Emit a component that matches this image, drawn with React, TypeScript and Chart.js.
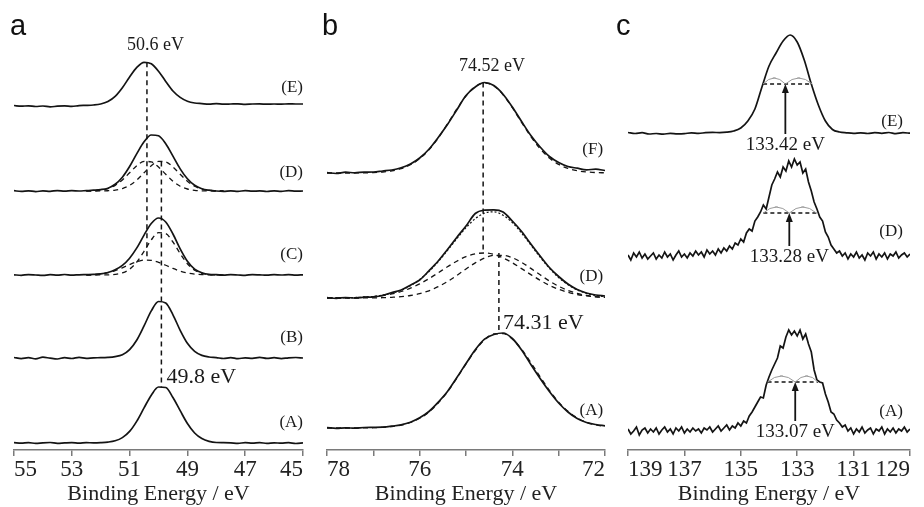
import React, { useEffect, useRef } from "react";
import { Chart, registerables } from "chart.js";

Chart.register(...registerables);

const SERIF = '"Liberation Serif", "Times New Roman", Times, serif';
const SANS = '"Liberation Sans", Arial, Helvetica, sans-serif';
const INK = "#141414";
const FIG = "\u2007";

// ================= Panel a =================
const aEnergy = [55, 54.75, 54.5, 54.25, 54, 53.75, 53.5, 53.25, 53, 52.75, 52.5, 52.25, 52, 51.75, 51.5, 51.25, 51, 50.75, 50.5, 50.25, 50, 49.75, 49.5, 49.25, 49, 48.75, 48.5, 48.25, 48, 47.75, 47.5, 47.25, 47, 46.75, 46.5, 46.25, 46, 45.75, 45.5, 45.25, 45];
const aFitEnergy = [52.5, 52.25, 52, 51.75, 51.5, 51.25, 51, 50.75, 50.5, 50.25, 50, 49.75, 49.5, 49.25, 49, 48.75, 48.5, 48.25, 48, 47.75];
const aNames = ["(E)", "(D)", "(C)", "(B)", "(A)"];
const aOffset = [345, 259, 175, 92, 7];
const aE = [-0.5, -1.2, -0.8, -1.5, -1.0, -1.8, -1.2, -0.9, -1.4, -0.6, -0.4, 0.0, 1.0, 3.5, 8.6, 17.2, 28.0, 37.6, 42.7, 41.2, 33.8, 23.6, 14.0, 7.6, 3.8, 2.0, 1.4, 0.9, 1.3, 0.8, 1.0, 1.2, 0.7, 1.0, 1.1, 0.8, 1.0, 0.9, 1.1, 1.0, 1.0];
const aD = [0.3, -0.4, 0.2, -0.6, 0.1, -0.3, 0.4, -0.2, 0.3, 0.0, 0.4, 0.8, 1.4, 2.8, 6.7, 13.8, 24.5, 37.4, 49.2, 56.0, 55.2, 47.2, 34.8, 22.1, 12.2, 5.7, 2.3, 0.8, 0.0, -0.4, 0.2, -0.3, 0.3, -0.2, 0.1, -0.5, 0.2, -0.3, 0.3, -0.1, 0.0];
const aC = [0.2, -0.3, 0.4, 0.0, -0.4, 0.3, -0.2, 0.5, -0.1, 0.2, 0.4, 0.6, 1.1, 2.5, 5.2, 9.6, 16.8, 27.1, 39.9, 51.5, 57.0, 53.0, 41.0, 26.2, 13.8, 5.9, 2.2, 0.6, 0.3, -0.2, 0.3, 0.0, -0.3, 0.4, 0.1, -0.2, 0.3, 0.0, 0.4, -0.1, 0.2];
const aB = [0.5, -0.6, 0.3, -0.8, 0.9, -0.2, -1.0, 0.4, -0.5, 0.6, -0.3, 0.2, 0.3, 0.6, 1.4, 3.3, 8.4, 18.0, 32.1, 47.1, 56.5, 55.0, 43.2, 27.7, 14.7, 6.6, 2.6, 1.0, 0.4, -0.5, 0.4, -0.7, 0.2, -0.3, 0.6, -0.4, 0.3, -0.6, 0.2, 0.5, 0.0];
const aA = [0.3, -0.2, 0.4, -0.4, 0.2, 0.5, -0.3, 0.1, 0.4, -0.2, 0.3, 0.2, 0.4, 0.9, 2.2, 5.4, 11.6, 21.9, 35.1, 47.8, 56.0, 55.5, 45.5, 32.3, 19.5, 10.0, 4.4, 1.6, 0.5, 0.4, 0.2, -0.3, 0.3, -0.1, 0.4, -0.4, 0.2, -0.2, 0.3, -0.5, 0.1];
const aD1 = [0.1, 0.3, 0.9, 2.4, 5.6, 11.0, 18.2, 25.3, 29.6, 29.1, 24.0, 16.7, 9.8, 4.8, 2.0, 0.7, 0.2, 0.05, 0, 0];
const aD2 = [0, 0, 0.07, 0.26, 0.87, 2.4, 5.6, 11.0, 18.2, 25.3, 29.6, 29.1, 24.0, 16.7, 9.8, 4.8, 2.0, 0.7, 0.2, 0.05];
const aC1 = [0.17, 0.45, 1.1, 2.3, 4.4, 7.2, 10.4, 13.2, 14.85, 14.65, 12.7, 9.75, 6.55, 3.9, 2.0, 0.93, 0.37, 0.13, 0.04, 0];
const aC2 = [0, 0, 0.05, 0.15, 0.62, 2.1, 5.8, 13.0, 23.7, 35.1, 42.3, 41.4, 33.0, 21.4, 11.3, 4.8, 1.7, 0.47, 0.11, 0.02];
const aShift = [50.4, 49.9];
const aShiftText = ["50.6 eV", "49.8 eV"];

// ================= Panel b =================
const bEnergy = [78, 77.8, 77.6, 77.4, 77.2, 77, 76.8, 76.6, 76.4, 76.2, 76, 75.8, 75.6, 75.4, 75.2, 75, 74.8, 74.6, 74.4, 74.2, 74, 73.8, 73.6, 73.4, 73.2, 73, 72.8, 72.6, 72.4, 72.2, 72];
const bNames = ["(F)", "(D)", "(A)"];
const bOffset = [277, 152, 22];
const bF = [0.3, -0.5, 0.8, 0.2, 0.9, 1.0, 2.0, 3.0, 5.2, 9.0, 15.0, 23.8, 35.6, 48.5, 63.0, 77.5, 86.0, 90.5, 87.5, 78.8, 66.0, 51.5, 37.5, 26.0, 16.5, 10.5, 6.5, 4.8, 3.2, 3.8, 2.5];
const bFfit = [0, 0, 0, 0.06, 0.16, 0.4, 1.0, 2.2, 4.3, 8.2, 14.3, 23.2, 35.0, 49.1, 63.8, 77.0, 86.4, 90.0, 87.0, 78.2, 65.3, 50.5, 36.4, 24.3, 15.0, 8.6, 4.6, 2.3, 1.1, 0.45, 0.2];
const bD = [0.3, -0.4, 0.5, 0.0, 0.8, 1.2, 2.5, 5.5, 8.0, 12.8, 18.0, 27.2, 37.0, 48.5, 60.5, 72.0, 84.5, 87.8, 88.2, 86.0, 77.0, 66.5, 54.0, 42.0, 30.5, 21.5, 14.0, 8.5, 5.0, 3.0, 2.0];
const bDsum = [0.05, 0.1, 0.2, 0.4, 0.85, 1.5, 2.8, 4.8, 7.8, 12.3, 18.5, 26.5, 36.5, 47.6, 59.3, 70.4, 79.3, 84.9, 86.2, 82.8, 75.5, 65.0, 53.0, 40.9, 29.7, 20.4, 13.3, 8.1, 4.7, 2.6, 1.3];
const bD1 = [0.05, 0.1, 0.2, 0.4, 0.8, 1.4, 2.5, 4.1, 6.5, 9.8, 14.1, 19.3, 25.2, 31.2, 36.8, 41.4, 44.2, 45.0, 43.6, 40.1, 35.2, 29.4, 23.4, 17.7, 12.7, 8.7, 5.7, 3.5, 2.1, 1.2, 0.6];
const bD2 = [0, 0, 0, 0, 0.05, 0.1, 0.3, 0.7, 1.3, 2.5, 4.4, 7.2, 11.3, 16.4, 22.5, 29.0, 35.1, 39.9, 42.6, 42.7, 40.3, 35.6, 29.6, 23.2, 17.0, 11.7, 7.6, 4.6, 2.6, 1.4, 0.7];
const bA = [0.4, -0.3, 0.2, -0.2, 0.5, 0.6, 0.8, 1.8, 3.2, 5.8, 10.2, 16.5, 25.8, 36.5, 50.2, 64.5, 78.2, 88.8, 93.5, 95.0, 89.5, 78.0, 63.5, 49.5, 36.5, 25.0, 16.0, 9.5, 5.5, 3.5, 2.2];
const bAfit = [0, 0, 0, 0, 0.1, 0.3, 0.7, 1.5, 2.9, 5.5, 9.7, 15.9, 25.0, 36.2, 49.7, 64.1, 77.5, 88.1, 94.1, 94.3, 89.0, 78.6, 65.4, 51.2, 37.6, 25.8, 16.8, 10.2, 5.7, 3.1, 1.5];
const bShift = [74.63, 74.29];
const bShiftText = ["74.52 eV", "74.31 eV"];

// ================= Panel c =================
const cEnergySmooth = [139, 138.75, 138.5, 138.25, 138, 137.75, 137.5, 137.25, 137, 136.75, 136.5, 136.25, 136, 135.75, 135.5, 135.25, 135, 134.75, 134.5, 134.25, 134, 133.75, 133.5, 133.25, 133, 132.75, 132.5, 132.25, 132, 131.75, 131.5, 131.25, 131, 130.75, 130.5, 130.25, 130, 129.75, 129.5, 129.25, 129];
const cEnergy = [
  139, 138.9, 138.8, 138.7, 138.6, 138.5, 138.4, 138.3, 138.2, 138.1,
  138, 137.9, 137.8, 137.7, 137.6, 137.5, 137.4, 137.3, 137.2, 137.1,
  137, 136.9, 136.8, 136.7, 136.6, 136.5, 136.4, 136.3, 136.2, 136.1,
  136, 135.9, 135.8, 135.7, 135.6, 135.5, 135.4, 135.3, 135.2, 135.1,
  135, 134.9, 134.8, 134.7, 134.6, 134.5, 134.4, 134.3, 134.2, 134.1,
  134, 133.9, 133.8, 133.7, 133.6, 133.5, 133.4, 133.3, 133.2, 133.1,
  133, 132.9, 132.8, 132.7, 132.6, 132.5, 132.4, 132.3, 132.2, 132.1,
  132, 131.9, 131.8, 131.7, 131.6, 131.5, 131.4, 131.3, 131.2, 131.1,
  131, 130.9, 130.8, 130.7, 130.6, 130.5, 130.4, 130.3, 130.2, 130.1,
  130, 129.9, 129.8, 129.7, 129.6, 129.5, 129.4, 129.3, 129.2, 129.1,
  129,
];
const cNames = ["(E)", "(D)", "(A)"];
const cOffset = [317, 193, 18];
const cE = [0.5, -0.5, 0.3, -1.0, -0.5, -1.2, -0.3, -0.8, -0.6, 0.2, -0.3, 0.3, 0.6, 0.4, 0.8, 2.0, 5.0, 12.0, 24.0, 46.0, 67.0, 80.0, 92.0, 98.0, 91.0, 73.0, 49.0, 28.0, 12.0, 3.5, 1.0, 0.2, -0.3, 0.2, -0.5, 0.4, -0.3, 0.5, -0.6, 0.3, -0.2];
const cD = [
  2, -3, 4, 0, 5, -1, 3, -2, 1, 4,
  -2, 2, -1, 5, 0, 3, -3, 2, 6, 0,
  3, -1, 4, 1, 6, 2, 5, 0, 7, 3,
  6, 2, 8, 4, 9, 6, 11, 8, 14, 12,
  18, 15, 24, 28, 26, 36, 40, 45, 52, 48,
  60, 72, 78, 85, 80, 90, 86, 96, 90, 98,
  92, 95, 84, 88, 75, 66, 55, 48, 40, 36,
  25, 20, 12, 8, 4, 6, 1, 4, -2, 3,
  0, 5, -1, 2, -3, 4, 1, 5, -2, 3,
  0, 4, -2, 3, 1, 5, -1, 2, 4, 0,
  3,
];
const cA = [
  3, -2, 1, 5, -3, 2, 4, -1, 3, 0,
  4, -2, 2, 5, 0, 3, -2, 4, 1, 5,
  -1, 3, 0, 4, 1, 3, -1, 4, 2, 5,
  0, 3, 6, 1, 4, 7, 2, 6, 4, 9,
  6, 11, 9, 16, 20, 25, 30, 35, 34, 47,
  55, 62, 68, 74, 86, 84, 95, 102, 97, 101,
  96, 102, 93, 98, 88, 80, 62, 52, 50, 49,
  38, 30, 20, 18, 12, 9, 5, 7, 1, 4,
  -2, 3, 0, 5, -1, 2, 4, -2, 3, 1,
  5, -2, 3, 0, 4, -1, 3, 1, 5, 0,
  3,
];
const cPeakPos = [133.42, 133.28, 133.07];
const cPeakText = ["133.42 eV", "133.28 eV", "133.07 eV"];
const cHalfLeft = [134.21, 134.2, 134.05];
const cHalfRight = [132.47, 132.32, 132.26];
const cHalfHeight = [49, 44, 50];

// ================= helpers =================
const pts = (xs: number[], ys: number[], off: number) => xs.map((x, i) => ({ x, y: ys[i] + off }));

function solid(xs: number[], ys: number[], off: number, smooth = true) {
  return {
    data: pts(xs, ys, off),
    borderColor: INK,
    borderWidth: 1.7,
    pointRadius: 0,
    fill: false,
    tension: 0,
    cubicInterpolationMode: smooth ? "monotone" : "default",
  };
}
function dashed(xs: number[], ys: number[], off: number, dash = [5, 4], width = 1.3) {
  return {
    data: pts(xs, ys, off),
    borderColor: INK,
    borderWidth: width,
    borderDash: dash,
    pointRadius: 0,
    fill: false,
    tension: 0,
    cubicInterpolationMode: "monotone",
  };
}
function segment(x1: number, y1: number, x2: number, y2: number, dash: number[] = [5, 4], width = 1.5, color = INK) {
  return {
    data: [{ x: x1, y: y1 }, { x: x2, y: y2 }],
    borderColor: color,
    borderWidth: width,
    borderDash: dash,
    pointRadius: 0,
    fill: false,
    tension: 0,
  };
}

type Txt = { t: string; x: number; y: number; align: CanvasTextAlign; size: number };
type Ann = {
  texts: Txt[];
  letter: { t: string; px: number; py: number };
  arrows?: { x: number; tip: number }[];
  arcs?: { x1: number; x2: number; y: number }[];
};

function annotPlugin(ann: Ann) {
  return {
    id: "annot",
    afterDatasetsDraw(chart: any) {
      const { ctx } = chart;
      const xs = chart.scales.x;
      const ys = chart.scales.y;
      ctx.save();
      (ann.arcs || []).forEach((a) => {
        const x1 = xs.getPixelForValue(a.x1);
        const x2 = xs.getPixelForValue(a.x2);
        const y = ys.getPixelForValue(a.y);
        ctx.strokeStyle = "#9a9a9a";
        ctx.lineWidth = 1;
        ctx.setLineDash([]);
        ctx.beginPath();
        ctx.moveTo(x1, y);
        ctx.quadraticCurveTo((x1 + x2) / 2, y - 12, x2, y);
        ctx.stroke();
        ctx.beginPath();
        ctx.moveTo((x1 + x2) / 2 - 1.5, y - 6);
        ctx.lineTo((x1 + x2) / 2 + 1.5, y - 6);
        ctx.stroke();
      });
      (ann.arrows || []).forEach((a) => {
        const x = xs.getPixelForValue(a.x);
        const y = ys.getPixelForValue(a.tip);
        ctx.fillStyle = INK;
        ctx.beginPath();
        ctx.moveTo(x, y);
        ctx.lineTo(x - 3.5, y + 9);
        ctx.lineTo(x + 3.5, y + 9);
        ctx.closePath();
        ctx.fill();
      });
      ctx.textBaseline = "middle";
      ctx.fillStyle = "#1a1a1a";
      ann.texts.forEach((t) => {
        ctx.font = `${t.size}px ${SERIF}`;
        ctx.textAlign = t.align;
        ctx.fillText(t.t, xs.getPixelForValue(t.x), ys.getPixelForValue(t.y));
      });
      ctx.font = `29px ${SANS}`;
      ctx.textAlign = "left";
      ctx.textBaseline = "alphabetic";
      ctx.fillStyle = "#111";
      ctx.fillText(ann.letter.t, ann.letter.px, ann.letter.py);
      ctx.restore();
    },
  };
}

// Edge labels are kept inside the axis span (as in the figure) by padding them
// with figure spaces on the outer side.
function tickLabel(v: number, min: number, max: number, labelEvery: number) {
  if (Math.round(v) % labelEvery !== max % labelEvery) return "";
  const s = String(v);
  const pad = FIG.repeat(s.length);
  if (v === max) return pad + s; // left edge (reversed axis)
  if (v === min) return s + pad; // right edge
  return s;
}

function config(
  min: number,
  max: number,
  step: number,
  padL: number,
  padR: number,
  labelEvery: number,
  datasets: any[],
  ann: Ann
) {
  return {
    type: "line",
    data: { datasets },
    options: {
      animation: false,
      responsive: false,
      maintainAspectRatio: false,
      devicePixelRatio: 1,
      layout: { padding: { left: padL, right: padR, top: 0, bottom: 0 } },
      plugins: { legend: { display: false }, tooltip: { enabled: false } },
      elements: { point: { radius: 0 } },
      scales: {
        x: {
          type: "linear",
          min,
          max,
          reverse: true,
          afterFit: (s: any) => {
            s.height = 57;
          },
          ticks: {
            stepSize: step,
            autoSkip: false,
            maxRotation: 0,
            padding: 0,
            color: "#222",
            font: { family: SERIF, size: 23 },
            callback: (v: any) => tickLabel(v, min, max, labelEvery),
          },
          grid: { drawOnChartArea: false, drawTicks: true, tickLength: 6, color: "#7a7a7a", lineWidth: 1.5 },
          border: { display: true, color: "#7a7a7a", width: 1.5 },
          title: {
            display: true,
            text: "Binding Energy / eV",
            color: "#222",
            font: { family: SERIF, size: 22 },
            padding: { top: 0, bottom: 0 },
          },
        },
        y: { display: false, min: 0, max: 450 },
      },
    },
    plugins: [annotPlugin(ann)],
  };
}

function buildA() {
  const ds: any[] = [];
  const traces = [aE, aD, aC, aB, aA];
  traces.forEach((t, i) => ds.push(solid(aEnergy, t, aOffset[i])));
  ds.push(dashed(aFitEnergy, aD1, aOffset[1]));
  ds.push(dashed(aFitEnergy, aD2, aOffset[1]));
  ds.push(dashed(aFitEnergy, aC1, aOffset[2]));
  ds.push(dashed(aFitEnergy, aC2, aOffset[2]));
  const eTop = aOffset[0] + Math.max(...aE);
  const cSmallTop = aOffset[2] + Math.max(...aC1);
  const dTop = aOffset[1] + Math.max(...aD2);
  const aTop = aOffset[4] + Math.max(...aA);
  ds.push(segment(aShift[0], eTop, aShift[0], cSmallTop));
  ds.push(segment(aShift[1], dTop, aShift[1], aTop));
  const lifts = [17, 18, 20, 20, 20];
  const texts: Txt[] = aNames.map((n, i) => ({ t: n, x: 45, y: aOffset[i] + lifts[i], align: "right", size: 17 }));
  texts.push({ t: aShiftText[0], x: 50.1, y: 405, align: "center", size: 18 });
  texts.push({ t: aShiftText[1], x: 49.72, y: aTop + 10, align: "left", size: 22 });
  // canvas starts at x = -12
  return config(45, 55, 2, 26, 24, 2, ds, { texts, letter: { t: "a", px: 22, py: 35 } });
}

function buildB() {
  const ds: any[] = [];
  const traces = [bF, bD, bA];
  traces.forEach((t, i) => ds.push(solid(bEnergy, t, bOffset[i])));
  ds.push(dashed(bEnergy, bDsum, bOffset[1], [2, 2], 1.3));
  ds.push(dashed(bEnergy, bFfit, bOffset[0]));
  ds.push(dashed(bEnergy, bD1, bOffset[1]));
  ds.push(dashed(bEnergy, bD2, bOffset[1]));
  ds.push(dashed(bEnergy, bAfit, bOffset[2]));
  const fTop = bOffset[0] + Math.max(...bF);
  const compTop = bOffset[1] + Math.max(...bD1);
  const aTop = bOffset[2] + Math.max(...bA);
  ds.push(segment(bShift[0], fTop, bShift[0], compTop));
  ds.push(segment(bShift[1], compTop, bShift[1], aTop));
  const lifts = [23, 21, 17];
  const texts: Txt[] = bNames.map((n, i) => ({ t: n, x: 72.04, y: bOffset[i] + lifts[i], align: "right", size: 17 }));
  texts.push({ t: bShiftText[0], x: 74.44, y: fTop + 16, align: "center", size: 18 });
  texts.push({ t: bShiftText[1], x: 74.2, y: aTop + 10, align: "left", size: 22 });
  // canvas starts at x = 303
  return config(72, 78, 1, 24, 24, 2, ds, { texts, letter: { t: "b", px: 19, py: 35 } });
}

function buildC() {
  const ds: any[] = [];
  ds.push(solid(cEnergySmooth, cE, cOffset[0]));
  ds.push(solid(cEnergy, cD, cOffset[1], false));
  ds.push(solid(cEnergy, cA, cOffset[2], false));
  const texts: Txt[] = [];
  const arrows: { x: number; tip: number }[] = [];
  const arcs: { x1: number; x2: number; y: number }[] = [];
  const lifts = [11, 25, 20];
  const textDrop = [12, 0, 0];
  cNames.forEach((n, i) => {
    const level = cOffset[i] + cHalfHeight[i];
    ds.push(segment(cHalfLeft[i], level, cHalfRight[i], level, [4, 3], 1.3));
    const textY = cOffset[i] - textDrop[i];
    ds.push(segment(cPeakPos[i], textY + 11, cPeakPos[i], level - 6, [], 1.8));
    arrows.push({ x: cPeakPos[i], tip: level });
    arcs.push({ x1: cHalfLeft[i], x2: cPeakPos[i], y: level });
    arcs.push({ x1: cPeakPos[i], x2: cHalfRight[i], y: level });
    texts.push({ t: n, x: 129.25, y: cOffset[i] + lifts[i], align: "right", size: 17 });
    texts.push({ t: cPeakText[i], x: cPeakPos[i], y: textY, align: "center", size: 19 });
  });
  // canvas starts at x = 592
  return config(129, 139, 2, 36, 36, 2, ds, { texts, arrows, arcs, letter: { t: "c", px: 24, py: 35 } });
}

function Panel({ left, width, build }: { left: number; width: number; build: () => any }) {
  const ref = useRef<HTMLCanvasElement>(null);
  useEffect(() => {
    const chart = new Chart(ref.current as HTMLCanvasElement, build());
    return () => chart.destroy();
  }, []);
  return (
    <canvas
      ref={ref}
      width={width}
      height={507}
      style={{ position: "absolute", left, top: 0, width, height: 507 }}
    />
  );
}

export default function App() {
  return (
    <div
      style={{
        position: "fixed",
        left: 0,
        top: 0,
        width: 924,
        height: 507,
        overflow: "hidden",
        background: "#ffffff",
      }}
    >
      <Panel left={-12} width={339} build={buildA} />
      <Panel left={303} width={326} build={buildB} />
      <Panel left={592} width={354} build={buildC} />
    </div>
  );
}
